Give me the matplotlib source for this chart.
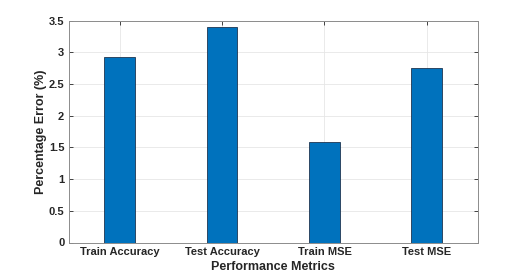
import matplotlib.pyplot as plt

# Data
metrics = ['Train Accuracy', 'Test Accuracy', 'Train MSE', 'Test MSE']
errors = [2.92, 3.40, 1.585, 2.755]
yticks = [0, 0.5, 1, 1.5, 2, 2.5, 3, 3.5]

plt.rcParams['font.family'] = ['Liberation Sans', 'DejaVu Sans']
plt.rcParams['font.weight'] = 'bold'

fig = plt.figure(figsize=(5.28, 2.75), dpi=100)
ax = fig.add_axes([68.5 / 528, 1 - 242.5 / 275, (478 - 68.5) / 528, (242.5 - 20.5) / 275])

x = list(range(1, len(metrics) + 1))
ax.bar(x, errors, width=0.3, color='#0072BD', edgecolor='#1f3550', linewidth=0.6, zorder=3)

ax.set_xlim(0.5, 4.5)
ax.set_ylim(0, 3.5)
ax.set_xticks(x)
ax.set_xticklabels(metrics)
ax.set_yticks(yticks)
ax.set_yticklabels(['0', '0.5', '1', '1.5', '2', '2.5', '3', '3.5'])

ax.grid(True, color='#e6e6e6', linewidth=0.6, zorder=0)
ax.tick_params(direction='in', length=3, width=0.6, color='#262626',
               labelsize=8, top=True, right=True, pad=3)
for s in ax.spines.values():
    s.set_color('#8c8c8c')
    s.set_linewidth(0.7)
for lbl in ax.get_xticklabels() + ax.get_yticklabels():
    lbl.set_fontweight('bold')
    lbl.set_color('#262626')

ax.set_xlabel('Performance Metrics', fontsize=9, fontweight='bold', labelpad=3, color='#262626')
ax.set_ylabel('Percentage Error (%)', fontsize=9, fontweight='bold', labelpad=1, color='#262626')

fig.savefig('out.png', dpi=100)
